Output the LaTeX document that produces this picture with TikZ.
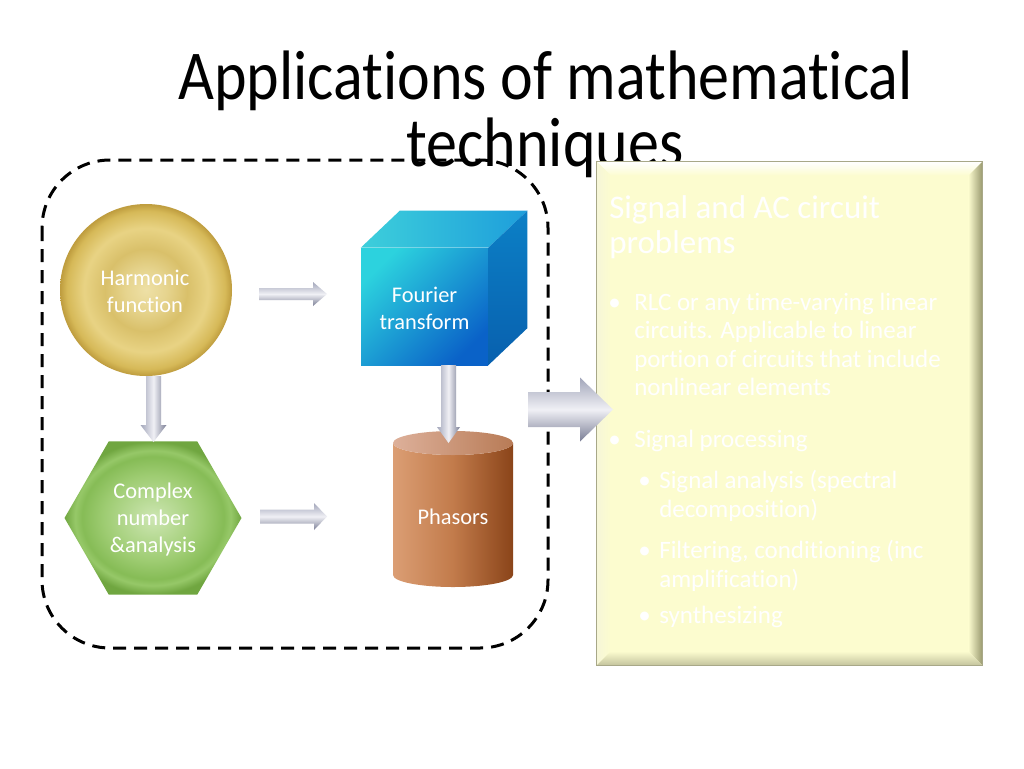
\documentclass[tikz,border=0pt]{standalone}
\usepackage{fontspec}
\setmainfont{Carlito}[Ligatures={NoCommon}]
\newfontfamily\titlefont{Carlito}[Ligatures={NoCommon}, FakeStretch=0.886]
\usetikzlibrary{calc,shapes.geometric}
\definecolor{dA}{HTML}{EEE0A6}
\definecolor{dB}{HTML}{E6D48E}
\definecolor{dC}{HTML}{D9C06A}
\definecolor{dD}{HTML}{E8D384}
\definecolor{dE}{HTML}{D6B958}
\definecolor{dF}{HTML}{BE9C3E}
\definecolor{gA}{HTML}{CDE6B2}
\definecolor{gB}{HTML}{9ECC72}
\definecolor{gC}{HTML}{86BC56}
\definecolor{gD}{HTML}{96C868}
\definecolor{gE}{HTML}{70A640}
\definecolor{arrTop}{HTML}{A2A6BA}
\definecolor{arrMid}{HTML}{F0F0F5}
\definecolor{arrBot}{HTML}{7A7E95}
\definecolor{boxFill}{HTML}{FCFCCF}
\definecolor{boxEdge}{HTML}{A8A888}
\definecolor{bevRight}{HTML}{9A9A70}
\definecolor{bevBottom}{HTML}{C4C49E}
\definecolor{bevLeft}{HTML}{F6F6D8}
\definecolor{cubeFrontA}{HTML}{2CD2DE}
\definecolor{cubeFrontB}{HTML}{0A62C8}
\definecolor{cubeTopA}{HTML}{3DCFDB}
\definecolor{cubeTopB}{HTML}{1E9EDB}
\definecolor{cubeSideA}{HTML}{0C80C6}
\definecolor{cubeSideB}{HTML}{0860AE}
\definecolor{cylA}{HTML}{DB9E74}
\definecolor{cylB}{HTML}{C27B4B}
\definecolor{cylC}{HTML}{8A4419}
\definecolor{cylTopA}{HTML}{DDB09A}
\definecolor{cylTopB}{HTML}{B87B56}
\pgfdeclareradialshading{donut}{\pgfpoint{0bp}{0bp}}{color(0bp)=(dA); color(6bp)=(dB); color(12bp)=(dC); color(18bp)=(dD); color(23bp)=(dE); color(25bp)=(dF); color(50bp)=(dF)}
\pgfdeclareradialshading{hexshade}{\pgfpoint{0bp}{0bp}}{color(0bp)=(gA); color(14bp)=(gB); color(20bp)=(gC); color(22bp)=(gD); color(25bp)=(gE); color(50bp)=(gE)}
\newcommand\hblock[5]{%
  \path[hgray] ($(#1)+(0,-#3)$) -- ($(#2)+(-#5,-#3)$) -- ($(#2)+(-#5,-#4)$) -- (#2)
    -- ($(#2)+(-#5,#4)$) -- ($(#2)+(-#5,#3)$) -- ($(#1)+(0,#3)$) -- cycle;}
\newcommand\vblock[5]{%
  \path[vgray] ($(#1)+(-#3,0)$) -- ($(#2)+(-#3,-#5)$) -- ($(#2)+(-#4,-#5)$) -- (#2)
    -- ($(#2)+(#4,-#5)$) -- ($(#2)+(#3,-#5)$) -- ($(#1)+(#3,0)$) -- cycle;}
\tikzset{
  dashedframe/.style={draw=black, line width=2.25pt, dash pattern=on 9.75pt off 6pt, rounded corners=51pt},
  titletext/.style={font=\titlefont\fontsize{52.5pt}{57pt}\selectfont, inner sep=0, anchor=base, text=black},
  shapelabel/.style={text=white, font=\fontsize{16.8pt}{20.25pt}\selectfont, align=center, inner sep=0},
  hgray/.style={shade, top color=arrTop, bottom color=arrBot, middle color=arrMid},
  vgray/.style={shade, left color=arrTop, right color=arrBot, middle color=arrMid},
  boxtxt/.style={text=white, inner sep=0, anchor=base west, font=\fontsize{18.75pt}{22pt}\selectfont},
  boxhead/.style={text=white, inner sep=0, anchor=base west, font=\fontsize{24.75pt}{26pt}\selectfont},
}
\begin{document}
\begin{tikzpicture}[x=0.75pt,y=-0.75pt]
\useasboundingbox (0,0) rectangle (1024,768);
\fill[white] (0,0) rectangle (1024,768);

% dashed frame
\path[dashedframe] (42,160) rectangle (548,648);

% title
\node[titletext] (title1) at (545.5,99) {Applications of mathematical};
\node[titletext] (title2) at (545,166) {techniques};

% harmonic function
\node[circle, minimum size=129pt, inner sep=0, shade, shading=donut] (harm) at (146,290) {};
\node[shapelabel] (harmtxt) at (145,291) {Harmonic\\function};

% complex number
\node[regular polygon, regular polygon sides=6, minimum size=132.75pt, inner sep=0, shade, shading=hexshade] (cplx) at (153,518) {};
\node[shapelabel] (cplxtxt) at (153,520) {Complex\\number\\\&analysis};

% Fourier cube
\node[rectangle, minimum width=95.25pt, minimum height=87.75pt, inner sep=0,
      shade, left color=cubeFrontA, right color=cubeFrontB, shading angle=45] (four) at (424.5,306.5) {};
\path[shade, left color=cubeTopA, right color=cubeTopB]
  (four.north west) -- ++(39,-37) -- ($(four.north east)+(39,-37)$) -- (four.north east) -- cycle;
\path[shade, top color=cubeSideA, bottom color=cubeSideB]
  (four.north east) -- ++(39,-37) -- ($(four.south east)+(39,-37)$) -- (four.south east) -- cycle;
\node[shapelabel] (fourtxt) at (424.5,308) {Fourier\\transform};

% Phasors cylinder
\path[shade, left color=cylA, right color=cylC, middle color=cylB]
  (393,443) -- (393,575) arc[start angle=180, end angle=0, x radius=60, y radius=12]
  -- (513,443) arc[start angle=0, end angle=180, x radius=60, y radius=12] -- cycle;
\path[shade, left color=cylTopA, right color=cylTopB] (453,443) ellipse [x radius=60, y radius=12];
\node[shapelabel, minimum width=90pt, minimum height=108pt] (phas) at (453,517) {Phasors};

% small block arrows
\coordinate (h1s) at (259,294);
\coordinate (h1e) at (327,294);
\hblock{h1s}{h1e}{6}{12}{14}
\coordinate (h2s) at (260,516.5);
\coordinate (h2e) at (327,516.5);
\hblock{h2s}{h2e}{7}{13.5}{13}
\coordinate (v1s) at (153.5,376);
\coordinate (v1e) at (153.5,442);
\vblock{v1s}{v1e}{7.5}{13}{17}
\coordinate (v2s) at (448.5,365);
\coordinate (v2e) at (448.5,443);
\vblock{v2s}{v2e}{7.5}{11.5}{16}

% yellow box
\node[rectangle, minimum width=288.75pt, minimum height=377.25pt, inner sep=0, fill=boxFill] (sbox) at (789.5,413.5) {};
\path[shade, top color=white, bottom color=boxFill]
  (sbox.north west) -- (sbox.north east) -- ++(-14,14) -- ($(sbox.north west)+(14,14)$) -- cycle;
\path[shade, left color=bevLeft, right color=boxFill]
  (sbox.north west) -- ++(14,14) -- ($(sbox.south west)+(14,-14)$) -- (sbox.south west) -- cycle;
\path[shade, left color=boxFill, right color=bevRight]
  (sbox.north east) -- (sbox.south east) -- ++(-14,-14) -- ($(sbox.north east)+(-14,14)$) -- cycle;
\path[shade, top color=boxFill, bottom color=bevBottom]
  (sbox.south west) -- ++(14,-14) -- ($(sbox.south east)+(-14,-14)$) -- (sbox.south east) -- cycle;
\draw[boxEdge, line width=0.6pt] (sbox.north west) rectangle (sbox.south east);

% box text
\node[boxhead] (bh1) at (609,218) {Signal and AC circuit};
\node[boxhead] (bh2) at (609,253) {problems};
\foreach \yy [count=\i] in {310,447}
  \node[boxtxt] (b1m\i) at (608,\yy) {•};
\foreach \yy/\tt [count=\i] in {310/{RLC or any time-varying linear},
    338.5/{circuits. Applicable to linear},
    367/{portion of circuits that include},
    395.5/{nonlinear elements},
    447/{Signal processing}}
  \node[boxtxt] (b1t\i) at (634,\yy) {\tt};
\foreach \yy [count=\i] in {488,558,623}
  \node[boxtxt] (b2m\i) at (638,\yy) {•};
\foreach \yy/\tt [count=\i] in {488/{Signal analysis (spectral},
    517/{decomposition)},
    558/{Filtering, conditioning (inc},
    587/{amplification)},
    623/{synthesizing}}
  \node[boxtxt] (b2t\i) at (659,\yy) {\tt};

% big arrow
\coordinate (bs) at (528,409.5);
\coordinate (be) at (613,409.5);
\hblock{bs}{be}{17.5}{32}{33}
\end{tikzpicture}
\end{document}
